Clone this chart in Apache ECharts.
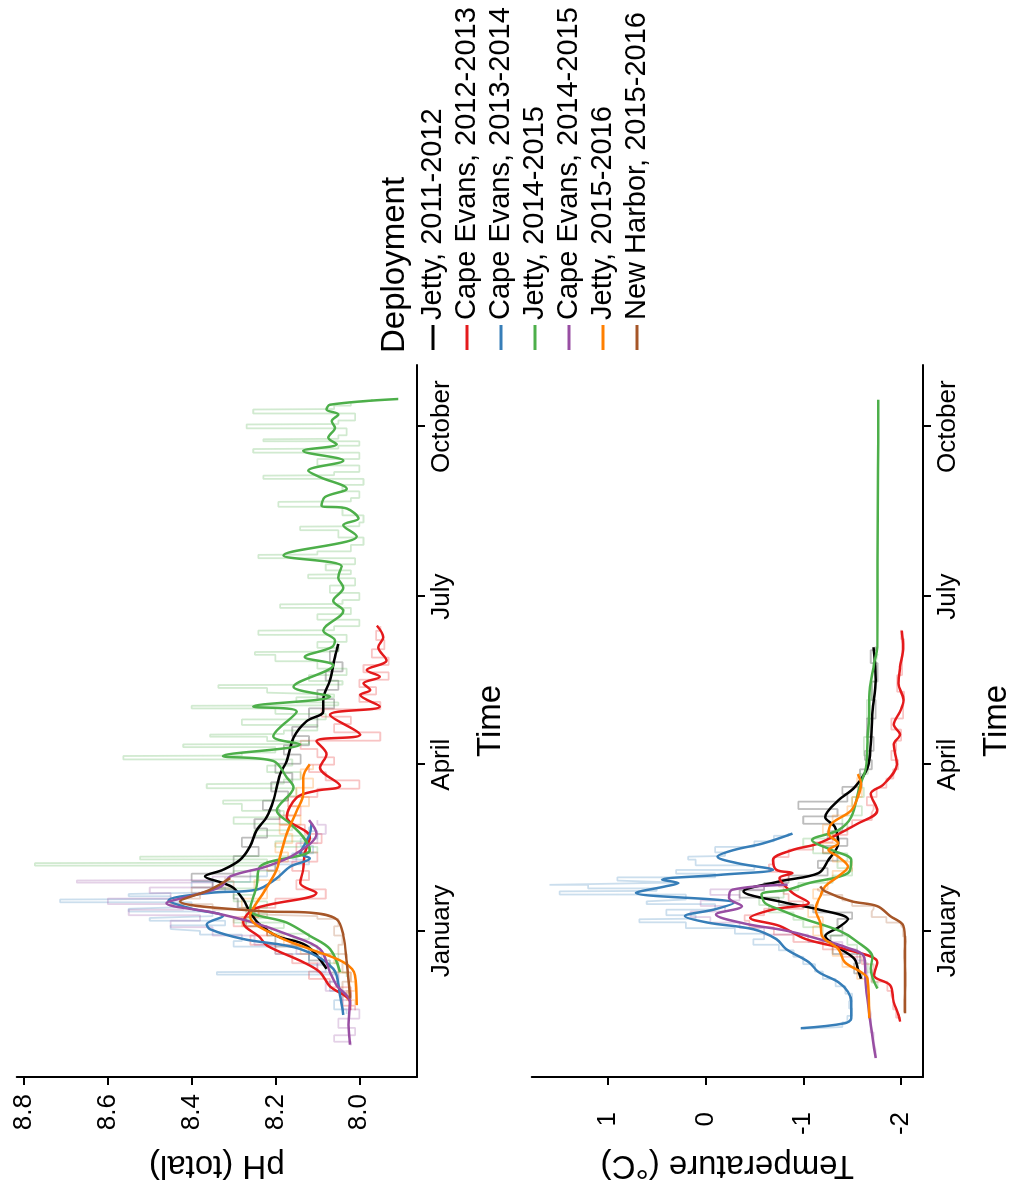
<!DOCTYPE html>
<html>
<head>
<meta charset="utf-8">
<script src="https://cdn.jsdelivr.net/npm/echarts@6/dist/echarts.min.js"></script>
<style>
html,body{margin:0;padding:0;width:1014px;height:1190px;overflow:hidden;background:#fff;}
#chart{position:absolute;left:0;top:0;width:1190px;height:1014px;transform-origin:0 0;transform:translate(0,1190px) rotate(-90deg);}
</style>
</head>
<body>
<div id="chart"></div>
<script>
// ---------- data (time = days since 1 January) ----------
const deployments = ["Jetty, 2011-2012","Cape Evans, 2012-2013","Cape Evans, 2013-2014","Jetty, 2014-2015","Cape Evans, 2014-2015","Jetty, 2015-2016","New Harbor, 2015-2016"];
const colors = ["#000000","#E41A1C","#377EB8","#4DAF4A","#984EA3","#FF7F00","#A65628"];
const monthTicks = [0, 90, 181, 273];
const monthLabels = ["January","April","July","October"];
const phTicks = [8.0, 8.2, 8.4, 8.6, 8.8];
const tempTicks = [-2, -1, 0, 1];

// smoothed pH
const phBlack = [[-20.5,8.078],[-8.0,8.126],[-2.7,8.197],[4,8.24],[10,8.26],[17.0,8.277],[23.3,8.30],[25.9,8.325],[29.5,8.368],[33.1,8.325],[38.4,8.285],[45.6,8.261],[54.5,8.245],[61.6,8.221],[70.6,8.205],[84.9,8.189],[92.0,8.173],[104.5,8.157],[113.5,8.126],[118.8,8.086],[125.1,8.086],[135.8,8.070],[148.3,8.058],[155.4,8.050]];
const phRed = [[-42.9,8.022],[-38.4,8.022],[-30,8.07],[-22.3,8.094],[-16.9,8.134],[-8,8.22],[-3.5,8.237],[4.5,8.277],[12,8.25],[20.6,8.102],[25.9,8.141],[33.1,8.134],[42,8.13],[50.9,8.118],[61.6,8.173],[72.3,8.149],[75.9,8.102],[78.6,8.046],[88.4,8.094],[95.6,8.078],[102.7,8.102],[106.3,7.998],[117.0,8.070],[121.5,7.951],[127.8,7.998],[130.4,7.974],[134,7.990],[137.6,7.951],[141.2,7.982],[146.5,7.935],[153.6,7.955],[159,7.943],[165.3,7.958]];
const phBlue = [[-45.5,8.038],[-34.8,8.046],[-20.5,8.062],[-9.8,8.141],[-4.4,8.277],[0.9,8.356],[3.6,8.364],[8.0,8.325],[12,8.40],[16.5,8.455],[20.6,8.356],[22.3,8.245],[28,8.20],[34.8,8.165],[39.3,8.118],[42.0,8.141],[47,8.13],[52.7,8.118],[58.1,8.114]];
const phGreen = [[-22.3,8.046],[-9.8,8.070],[-2.7,8.118],[4.5,8.173],[11.6,8.261],[24.1,8.245],[34.8,8.237],[43.8,8.118],[50.9,8.134],[58.1,8.165],[65.2,8.197],[77.7,8.157],[83.1,8.173],[92.0,8.205],[94.7,8.325],[101,8.141],[105.4,8.205],[118.8,8.149],[121.5,8.253],[126.8,8.070],[132.2,8.157],[143.8,8.062],[148.3,8.130],[153.6,8.066],[157.2,8.058],[162.6,8.086],[173.3,8.038],[178.7,8.062],[185.8,8.038],[191.2,8.050],[197.4,8.042],[203.3,8.181],[210.8,8.030],[213.5,8.006],[219.7,8.038],[223.3,8.002],[228.7,8.030],[230.4,8.090],[234.9,8.082],[239.4,8.030],[245.7,8.094],[249.2,8.122],[254.6,8.038],[259.9,8.134],[263.5,8.054],[267.1,8.074],[272.4,8.058],[276.0,8.066],[279.6,8.050],[282.3,8.078],[284.9,8.070],[288.0,7.907]];
const phPurple = [[-61.6,8.022],[-50.9,8.026],[-38.4,8.022],[-29.5,8.054],[-22.3,8.070],[-9.8,8.094],[-2,8.17],[5,8.26],[10,8.35],[15,8.46],[19,8.40],[24,8.33],[29.5,8.308],[35,8.22],[42,8.15],[52.7,8.102],[60,8.12]];
const phOrange = [[-40.2,8.006],[-24.1,8.010],[-16.9,8.038],[-9.8,8.118],[-2.7,8.197],[8.0,8.261],[15.2,8.245],[20.6,8.229],[33.1,8.197],[40.2,8.189],[52.7,8.173],[65.2,8.149],[74.2,8.134],[83.1,8.134],[90.2,8.118]];
const phBrown = [[-36.6,8.022],[-16.9,8.030],[-2.7,8.038],[6.3,8.054],[9.9,8.118],[10.7,8.237],[16.1,8.428],[22.3,8.356],[28.6,8.308]];

// raw pH
const phBlackRaw = [[-20,8.07],[-12,8.12],[-5,8.20],[0,8.22],[5,8.27],[10,8.25],[15,8.29],[20,8.30],[25,8.35],[29,8.40],[33,8.30],[38,8.30],[43,8.24],[48,8.28],[53,8.22],[58,8.25],[63,8.19],[68,8.23],[73,8.17],[78,8.21],[83,8.16],[88,8.20],[93,8.14],[98,8.18],[103,8.12],[108,8.16],[113,8.10],[118,8.12],[123,8.06],[128,8.10],[133,8.05],[138,8.08],[143,8.04],[148,8.07],[155,8.05]];
const phRedRaw = [[-43,8.01],[-38,8.04],[-33,8.02],[-28,8.07],[-24,8.12],[-20,8.10],[-15,8.16],[-10,8.20],[-5,8.26],[0,8.22],[5,8.30],[10,8.24],[15,8.20],[20,8.08],[25,8.15],[30,8.12],[35,8.16],[40,8.10],[45,8.15],[50,8.09],[55,8.13],[60,8.19],[65,8.14],[70,8.17],[75,8.10],[79,8.00],[84,8.08],[88,8.12],[92,8.06],[96,8.10],[101,8.14],[105,7.95],[110,8.06],[114,8.02],[118,8.09],[122,7.95],[126,8.00],[130,7.96],[134,8.00],[138,7.93],[142,7.99],[146,7.93],[150,7.97],[155,7.94],[160,7.96],[165,7.95]];
const phBlueRaw = [[-45,8.03],[-40,8.06],[-35,8.04],[-30,8.07],[-25,8.05],[-22.3,8.34],[-21.8,8.08],[-15,8.12],[-10,8.20],[-7,8.30],[-4,8.28],[0,8.38],[2,8.45],[4,8.32],[7,8.50],[9,8.35],[12,8.55],[14,8.40],[17,8.714],[17.5,8.45],[20,8.55],[22,8.32],[25,8.40],[28,8.26],[31,8.22],[34,8.20],[38,8.12],[40,8.16],[44,8.11],[48,8.14],[52,8.10],[56,8.12],[58,8.11]];
const phGreenRaw = [[-25,8.03],[-20,8.07],[-15,8.05],[-10,8.10],[-6,8.16],[-3,8.12],[0,8.21],[3,8.18],[6,8.30],[8,8.22],[11,8.27],[14,8.22],[18,8.30],[21,8.25],[25,8.33],[28,8.24],[31,8.30],[34,8.20],[36.7,8.774],[37.2,8.22],[40.2,8.523],[40.8,8.15],[44,8.10],[47,8.20],[50,8.12],[53,8.25],[56,8.16],[60,8.30],[63,8.18],[67,8.28],[70.6,8.325],[71,8.17],[75,8.15],[79.5,8.364],[80,8.18],[84,8.14],[88,8.22],[91,8.16],[94.7,8.563],[95.2,8.28],[98,8.20],[101,8.42],[101.5,8.12],[104,8.22],[106.3,8.356],[107,8.18],[110,8.10],[113,8.28],[116,8.08],[119,8.20],[121.9,8.40],[122.4,8.05],[125,8.15],[128,8.06],[130,8.22],[133.1,8.336],[133.6,8.04],[137,8.12],[140,8.03],[144,8.10],[148,8.20],[151,8.249],[151.5,8.05],[155,8.10],[158,8.03],[162.6,8.241],[163,8.06],[167,8.00],[170,8.10],[173,8.02],[176.8,8.189],[177.3,8.04],[181,8.00],[185,8.07],[189,8.01],[192.9,8.122],[193.4,8.02],[197,8.08],[200,8.01],[203.6,8.241],[204,8.10],[207,8.02],[211,7.99],[215,8.05],[218.9,8.141],[219.3,8.00],[223,7.99],[227,8.04],[232.3,8.193],[232.8,8.02],[236,8.00],[240,8.04],[243,7.99],[246.5,8.229],[247,8.06],[250,8.00],[254,8.10],[257,8.00],[260.9,8.253],[261.4,8.05],[264,8.00],[266.2,8.229],[266.7,8.05],[270,8.03],[274.2,8.269],[274.7,8.05],[278,8.01],[282.3,8.253],[282.8,8.06],[286,8.02],[288,7.97]];
const phPurpleRaw = [[-62,8.02],[-58,8.06],[-55,8.01],[-50,8.05],[-45,8.00],[-40,8.04],[-35,8.02],[-30,8.08],[-25,8.05],[-20,8.10],[-15,8.09],[-10,8.15],[-5,8.25],[0,8.35],[4,8.45],[7,8.38],[10,8.55],[13,8.42],[16,8.60],[19,8.45],[22,8.50],[25,8.35],[27.3,8.674],[27.8,8.35],[31,8.26],[35,8.20],[40,8.15],[45,8.12],[50,8.10],[55,8.08],[60,8.10]];
const phOrangeRaw = [[-40,8.01],[-35,8.03],[-30,8.01],[-25,8.02],[-20,8.05],[-15,8.06],[-10,8.14],[-5,8.18],[0,8.22],[5,8.28],[10,8.24],[15,8.28],[20,8.22],[25,8.25],[30,8.19],[35,8.22],[40,8.17],[45,8.20],[50,8.16],[55,8.19],[60,8.14],[65,8.17],[70,8.12],[75,8.15],[80,8.11],[85,8.14],[90,8.11]];
const phBrownRaw = [[-37,8.02],[-30,8.04],[-25,8.02],[-20,8.04],[-15,8.03],[-10,8.05],[-5,8.04],[0,8.06],[5,8.05],[8,8.10],[10,8.25],[13,8.35],[16,8.45],[19,8.38],[22,8.40],[25,8.30],[29,8.32]];

// smoothed temperature
const tBlack = [[-25.9,-1.59],[-20.5,-1.557],[-15.2,-1.524],[-8.9,-1.357],[-2.7,-1.224],[1.8,-1.357],[6.3,-1.457],[11.6,-1.157],[15.2,-0.824],[21.4,-0.39],[26.8,-0.757],[31.3,-1.157],[38.4,-1.257],[47.4,-1.357],[56.3,-1.324],[61.6,-1.224],[70.6,-1.357],[77.7,-1.524],[88.4,-1.657],[101,-1.69],[118.8,-1.707],[135.8,-1.74],[153.6,-1.717]];
const tRed = [[-49.1,-1.99],[-45.5,-1.974],[-38.4,-1.924],[-29.5,-1.89],[-24.1,-1.724],[-16.9,-1.757],[-9.8,-1.424],[-4.4,-1.024],[2.7,-0.757],[7.1,-0.457],[11.6,-0.69],[15.2,-1.057],[20.6,-0.89],[28.6,-0.757],[31.3,-0.89],[33.1,-0.724],[38.4,-0.69],[43.8,-0.89],[47.4,-1.157],[58.1,-1.557],[65.2,-1.757],[74.2,-1.69],[79.5,-1.824],[90.2,-1.957],[101,-1.924],[106.3,-1.99],[111.7,-1.924],[118.8,-1.99],[125.1,-2.024],[134,-1.974],[142.9,-1.99],[153.6,-2.02],[162.6,-2.007]];
const tBlue = [[-52.7,-0.974],[-50,-1.424],[-47.3,-1.49],[-38.4,-1.49],[-33,-1.457],[-27.7,-1.357],[-22.3,-1.157],[-16.9,-1.057],[-9.8,-0.824],[-4.4,-0.724],[0.9,-0.49],[4.5,-0.024],[8.0,0.21],[11.6,-0.09],[15.2,-0.29],[20.6,0.71],[24.1,0.41],[25.9,0.276],[27.7,0.443],[30.4,-0.157],[33.1,-0.69],[36.7,-0.324],[40.2,-0.124],[43.8,-0.29],[47.4,-0.59],[52.7,-0.89]];
const tGreen = [[-31.2,-1.757],[-20.5,-1.69],[-14.3,-1.707],[-5.4,-1.54],[0,-1.374],[7.1,-0.974],[11.6,-0.757],[15.2,-0.607],[19.7,-0.574],[22.3,-0.84],[25.9,-1.057],[31.3,-1.457],[38.4,-1.49],[43.8,-1.29],[49.1,-1.09],[54.5,-1.357],[61.6,-1.49],[77.7,-1.574],[88.4,-1.640],[104.5,-1.657],[118.8,-1.674],[126.8,-1.674],[144.7,-1.724],[153.6,-1.757],[200,-1.76],[250,-1.765],[287.6,-1.767]];
const tPurple = [[-68.8,-1.74],[-50.9,-1.69],[-30.3,-1.64],[-14.3,-1.624],[-8.9,-1.44],[-4.4,-1.157],[0,-0.84],[4,-0.40],[8.9,-0.107],[13.4,-0.374],[17.9,-0.24],[22.3,-0.274],[25,-0.84]];
const tOrange = [[-47.3,-1.674],[-25.9,-1.657],[-22.3,-1.59],[-16.9,-1.424],[-9.8,-1.357],[-2.7,-1.19],[4.5,-1.174],[11.6,-1.124],[18.8,-1.174],[24.1,-1.224],[29.5,-1.357],[34.8,-1.457],[40.2,-1.357],[43.8,-1.257],[47.4,-1.357],[52.7,-1.257],[58.1,-1.29],[65.2,-1.49],[72.3,-1.557],[79.5,-1.59],[84.9,-1.557]];
const tBrown = [[-44.6,-2.04],[-6.2,-2.04],[2.7,-2.024],[8.0,-1.89],[13.4,-1.757],[16.1,-1.49],[21.4,-1.224],[24.1,-1.174]];

// raw temperature
const tBlackRaw = [[-26,-1.60],[-20,-1.52],[-15,-1.58],[-10,-1.30],[-5,-1.28],[0,-1.40],[5,-1.35],[8,-1.50],[12,-1.10],[16,-0.75],[20,-0.35],[24,-0.60],[28,-0.85],[32,-1.25],[36,-1.15],[40,-1.35],[44,-1.20],[48,-1.45],[52,-1.25],[56,-1.40],[60,-1.00],[64,-1.35],[68,-0.95],[72,-1.45],[76,-1.40],[80,-1.60],[85,-1.58],[90,-1.70],[95,-1.63],[100,-1.72],[110,-1.65],[120,-1.74],[130,-1.70],[140,-1.76],[150,-1.69],[154,-1.74]];
const tRedRaw = [[-49,-1.99],[-45,-1.95],[-40,-1.92],[-35,-1.90],[-30,-1.86],[-25,-1.70],[-20,-1.72],[-16,-1.60],[-12,-1.40],[-8,-1.20],[-4,-0.90],[0,-0.70],[4,-0.45],[7,-0.40],[10,-0.60],[14,-1.00],[18,-0.85],[22,-0.80],[26,-0.75],[30,-0.85],[34,-0.65],[38,-0.70],[42,-0.85],[46,-1.10],[50,-1.30],[54,-1.45],[58,-1.50],[62,-1.70],[66,-1.72],[70,-1.65],[75,-1.75],[80,-1.85],[85,-1.92],[90,-1.97],[95,-1.90],[100,-1.95],[106,-2.00],[112,-1.90],[118,-2.02],[125,-2.03],[134,-1.96],[143,-2.01],[153,-2.03],[163,-2.00]];
const tBlueRaw = [[-53,-1.0],[-51,-1.40],[-48,-1.45],[-44,-1.50],[-40,-1.47],[-36,-1.50],[-32,-1.43],[-28,-1.33],[-24,-1.20],[-20,-1.12],[-16,-1.00],[-12,-0.90],[-9,-0.75],[-6,-0.49],[-3,-0.60],[0,-0.30],[3,0.20],[6.3,0.676],[7,0.10],[10,0.40],[13,-0.10],[16,0.60],[18,0.20],[21.4,1.49],[22,0.50],[24,1.20],[25.9,1.593],[26.5,0.30],[28,0.90],[30,-0.10],[32,0.30],[34,-0.50],[37,0.10],[40.2,0.176],[41,-0.20],[44,-0.10],[47,-0.50],[50,-0.70],[53,-0.85]];
const tGreenRaw = [[-31,-1.76],[-25,-1.70],[-20,-1.66],[-15,-1.62],[-10,-1.55],[-5,-1.45],[0,-1.20],[4,-1.00],[8,-0.90],[12,-0.65],[16,-0.55],[20,-0.80],[24,-0.95],[28,-1.30],[32,-1.50],[36,-1.35],[40,-1.45],[44,-1.10],[48,-1.00],[52,-1.30],[56,-1.45],[60,-1.40],[65,-1.60],[70,-1.50],[75,-1.62],[80,-1.58],[90,-1.66],[100,-1.62],[110,-1.68],[120,-1.65],[130,-1.70],[140,-1.74],[150,-1.76]];
const tPurpleRaw = [[-69,-1.74],[-60,-1.72],[-50,-1.69],[-40,-1.67],[-30,-1.66],[-20,-1.64],[-12,-1.55],[-8,-1.40],[-4,-1.05],[0,-0.60],[3,-0.35],[6,-0.05],[9,0.15],[12,-0.20],[15,0.05],[18,-0.35],[21,-0.05],[24,-0.60]];
const tOrangeRaw = [[-47,-1.68],[-40,-1.66],[-30,-1.65],[-22,-1.55],[-17,-1.40],[-10,-1.30],[-5,-1.20],[0,-1.10],[5,-1.20],[10,-1.05],[15,-1.15],[20,-1.10],[25,-1.25],[30,-1.30],[35,-1.50],[40,-1.30],[45,-1.20],[50,-1.35],[55,-1.20],[60,-1.30],[65,-1.45],[70,-1.50],[75,-1.60],[80,-1.55],[85,-1.57]];
const tBrownRaw = [[-44,-2.03],[-30,-2.05],[-15,-2.03],[-6,-2.05],[0,-2.02],[3,-2.00],[6,-1.85],[9,-1.70],[12,-1.72],[15,-1.50],[18,-1.40],[21,-1.20],[23,-1.15]];

const phSmooth = [phBlack, phRed, phBlue, phGreen, phPurple, phOrange, phBrown];
const phRaw = [phBlackRaw, phRedRaw, phBlueRaw, phGreenRaw, phPurpleRaw, phOrangeRaw, phBrownRaw];
const tSmooth = [tBlack, tRed, tBlue, tGreen, tPurple, tOrange, tBrown];
const tRaw = [tBlackRaw, tRedRaw, tBlueRaw, tGreenRaw, tPurpleRaw, tOrangeRaw, tBrownRaw];

// ---------- chart ----------
const FONT = "Liberation Sans, Arial, Helvetica, sans-serif";
const chart = echarts.init(document.getElementById('chart'), null, {renderer: 'canvas'});

const monthMap = {};
monthTicks.forEach((t, i) => { monthMap[t] = monthLabels[i]; });

function timeAxis(gi) {
  return {
    type: 'value', gridIndex: gi, min: -79.1, max: 306.4,
    name: 'Time', nameLocation: 'middle', nameGap: 57,
    nameTextStyle: {fontSize: 33, color: '#000', fontFamily: FONT},
    axisLine: {show: true, onZero: false, lineStyle: {color: '#000', width: 2}},
    axisTick: {show: true, length: 8, lineStyle: {color: '#000', width: 2}, customValues: monthTicks},
    axisLabel: {show: true, margin: 12, fontSize: 26, color: '#000', fontFamily: FONT,
      customValues: monthTicks, formatter: v => monthMap[Math.round(v)] || ''},
    splitLine: {show: false}
  };
}

const series = [];
deployments.forEach((name, i) => {
  series.push({name: name + ' raw pH', type: 'line', xAxisIndex: 0, yAxisIndex: 0, data: phRaw[i],
    showSymbol: false, silent: true, step: 'middle', z: 1, lineStyle: {color: colors[i], width: 1.8, opacity: 0.26}});
  series.push({name: name + ' raw T', type: 'line', xAxisIndex: 1, yAxisIndex: 1, data: tRaw[i],
    showSymbol: false, silent: true, step: 'middle', z: 1, lineStyle: {color: colors[i], width: 1.8, opacity: 0.26}});
});
deployments.forEach((name, i) => {
  series.push({name: name, type: 'line', xAxisIndex: 0, yAxisIndex: 0, data: phSmooth[i],
    showSymbol: false, smooth: 0.35, z: 3 + i,
    itemStyle: {color: colors[i]}, lineStyle: {color: colors[i], width: 2.5}});
  series.push({name: name, type: 'line', xAxisIndex: 1, yAxisIndex: 1, data: tSmooth[i],
    showSymbol: false, smooth: 0.35, z: 3 + i,
    itemStyle: {color: colors[i]}, lineStyle: {color: colors[i], width: 2.5}});
});

chart.setOption({
  animation: false,
  backgroundColor: '#fff',
  textStyle: {fontFamily: FONT},
  title: {text: 'Deployment', left: 837, top: 378, padding: 0,
    textStyle: {fontSize: 33, fontWeight: 'normal', color: '#000', fontFamily: FONT, lineHeight: 34}},
  legend: {
    data: deployments, orient: 'vertical', left: 840, top: 418, padding: 0,
    icon: 'rect', itemWidth: 25, itemHeight: 3, itemGap: 4,
    textStyle: {fontSize: 29, color: '#000', fontFamily: FONT, lineHeight: 30},
    selectedMode: false
  },
  grid: [
    {left: 105.7, top: 16.7, width: 719.3, height: 400.3, containLabel: false},
    {left: 105.7, top: 531.7, width: 719.3, height: 400, containLabel: false}
  ],
  xAxis: [timeAxis(0), timeAxis(1)],
  yAxis: [
    {type: 'value', gridIndex: 0, min: 7.8623, max: 8.8174,
      name: 'pH (total)', nameLocation: 'middle', nameGap: 72, nameRotate: 90,
      nameTextStyle: {fontSize: 33, color: '#000', fontFamily: FONT},
      axisLine: {show: true, onZero: false, lineStyle: {color: '#000', width: 2}},
      axisTick: {show: true, length: 8, lineStyle: {color: '#000', width: 2}, customValues: phTicks},
      axisLabel: {show: true, margin: 17, fontSize: 26, color: '#000', fontFamily: FONT,
        customValues: phTicks, formatter: v => v.toFixed(1)},
      splitLine: {show: false}},
    {type: 'value', gridIndex: 1, min: -2.224, max: 1.776,
      name: 'Temperature (°C)', nameLocation: 'middle', nameGap: 72, nameRotate: 90,
      nameTextStyle: {fontSize: 33, color: '#000', fontFamily: FONT},
      axisLine: {show: true, onZero: false, lineStyle: {color: '#000', width: 2}},
      axisTick: {show: true, length: 8, lineStyle: {color: '#000', width: 2}, customValues: tempTicks},
      axisLabel: {show: true, margin: 35, fontSize: 26, color: '#000', fontFamily: FONT,
        customValues: tempTicks, formatter: v => String(Math.round(v))},
      splitLine: {show: false}}
  ],
  series: series
});
</script>
</body>
</html>
